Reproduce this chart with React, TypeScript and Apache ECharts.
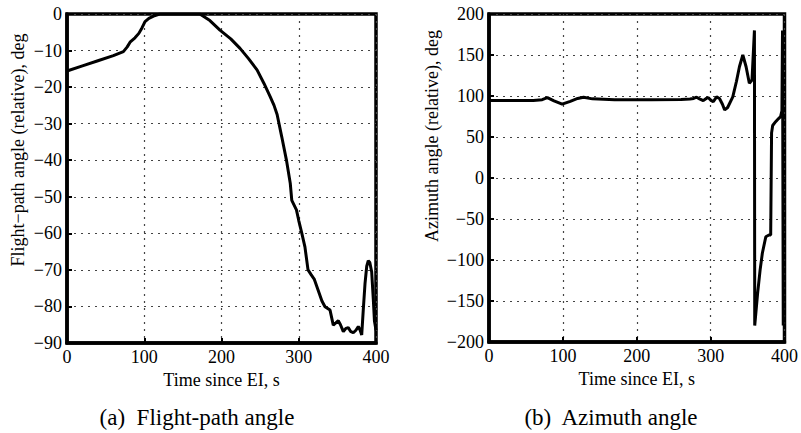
import React, { useEffect, useRef } from "react";
import * as echarts from "echarts";

// Flight-path angle (relative), deg vs time since EI, s
const fpaTime = [0, 20, 40, 60, 73, 78, 82, 88, 93, 97, 101, 106, 112, 120, 172, 185, 198, 212, 224, 235, 246, 255, 263, 268, 272, 278, 284, 289, 291, 297, 300, 304, 308, 312, 316, 320, 325, 330, 334, 340.5, 344.7, 348, 351.2, 354, 357.7, 361, 364.1, 367, 370.6, 374, 377.1, 379.5, 381.5, 383.5, 385.8, 388, 390, 392, 394.4, 396.5, 398, 400];
const fpaValue = [-15.6, -14.2, -12.8, -11.4, -10.3, -9.0, -7.6, -6.5, -5.3, -3.8, -2.1, -1.2, -0.6, 0, 0, -1.8, -4.4, -6.8, -9.4, -12.2, -15.3, -19.0, -22.6, -25.0, -27.5, -33.6, -39.9, -46.3, -51.0, -53.6, -56.5, -60.0, -63.7, -70.0, -71.3, -72.5, -75.5, -78.5, -80.1, -81.0, -85.1, -84.5, -83.9, -85.0, -86.9, -86.0, -85.8, -86.8, -87.2, -86.5, -85.5, -86.5, -87.8, -81.0, -73.7, -69.0, -67.5, -68.0, -70.5, -78.0, -84.0, -86.5];

// Azimuth angle (relative), deg vs time since EI, s
const azTime = [0, 30, 60, 72, 79, 88, 99, 110, 120, 128, 140, 170, 220, 260, 272, 277, 281, 285, 290, 294, 297, 300, 303.6, 308, 312, 316, 319, 323, 330, 335, 339, 343.6, 348, 352.4, 356, 359.3, 359.7, 363.6, 367, 370, 374.7, 379, 381.3, 382.5, 384, 388, 392, 394.7, 396.5, 397.3, 398.3];
const azValue = [94.5, 94.5, 94.5, 95.5, 98, 94, 90, 93.5, 97, 98.4, 96.5, 95.5, 95.5, 95.8, 96.3, 97, 98.5, 96.5, 94.3, 97, 98, 95, 93, 99, 97, 90, 83, 86, 99, 118, 135.7, 150, 135.7, 115.5, 119.5, 180, -180, -140.6, -112, -91.8, -71.6, -69.5, -69.5, 55, 64, 68.7, 72.5, 74.8, 82, 180, -180];

const xTicks = [0, 100, 200, 300, 400];
const fpaTicks = [0, -10, -20, -30, -40, -50, -60, -70, -80, -90];
const azTicks = [200, 150, 100, 50, 0, -50, -100, -150, -200];

const xName = "Time since EI, s";
const fpaName = "Flight\u2212path angle (relative), deg";
const azName = "Azimuth angle (relative), deg";
const captionA = "(a)  Flight-path angle";
const captionB = "(b)  Azimuth angle";

const FONT = "'Liberation Serif', 'Times New Roman', Times, serif";

const fmt = (v: number) => (v < 0 ? "\u2212" + Math.abs(v) : String(v));

function axisCommon() {
  return {
    axisLine: { show: true, onZero: false, lineStyle: { color: "#000", width: 3.5 } },
    axisTick: { show: true, inside: true, length: 5, lineStyle: { color: "#000", width: 2 } },
    splitLine: { show: true, lineStyle: { color: "#444", width: 1.2, type: [2, 5] } },
    axisLabel: { color: "#000", fontFamily: FONT, fontSize: 18, formatter: fmt, margin: 5, showMinLabel: true, showMaxLabel: true },
  };
}

export default function App() {
  const ref = useRef<HTMLDivElement>(null);
  useEffect(() => {
    if (!ref.current) return;
    const chart = echarts.init(ref.current, undefined, { renderer: "svg" });
    const fpaData = fpaTime.map((t, i) => [t, fpaValue[i]]);
    const azData = azTime.map((t, i) => [t, azValue[i]]);
    chart.setOption({
      animation: false,
      backgroundColor: "#fff",
      grid: [
        { left: 67, right: 425, top: 14, bottom: 90, show: true, borderColor: "#000", borderWidth: 3.5 },
        { left: 489, right: 12, top: 14, bottom: 91, show: true, borderColor: "#000", borderWidth: 3.5 },
      ],
      xAxis: [0, 1].map((g) => ({
        type: "value",
        gridIndex: g,
        min: xTicks[0],
        max: xTicks[xTicks.length - 1],
        interval: 100,
        name: xName,
        nameLocation: "middle",
        nameGap: 28,
        nameTextStyle: { color: "#000", fontFamily: FONT, fontSize: 18 },
        ...axisCommon(),
      })),
      yAxis: [
        {
          type: "value",
          gridIndex: 0,
          min: fpaTicks[fpaTicks.length - 1],
          max: fpaTicks[0],
          interval: 10,
          ...axisCommon(),
        },
        {
          type: "value",
          gridIndex: 1,
          min: azTicks[azTicks.length - 1],
          max: azTicks[0],
          interval: 50,
          ...axisCommon(),
        },
      ],
      series: [
        {
          type: "line",
          xAxisIndex: 0,
          yAxisIndex: 0,
          data: fpaData,
          showSymbol: false,
          smooth: false,
          lineStyle: { color: "#000", width: 3 },
        },
        {
          type: "line",
          xAxisIndex: 1,
          yAxisIndex: 1,
          data: azData,
          showSymbol: false,
          smooth: false,
          lineStyle: { color: "#000", width: 3 },
        },
      ],
      graphic: [
        {
          type: "text",
          x: 18,
          y: 150,
          rotation: Math.PI / 2,
          style: { text: fpaName, fill: "#000", fontFamily: FONT, fontSize: 18, align: "center", verticalAlign: "middle", textAlign: "center", textVerticalAlign: "middle" },
        },
        {
          type: "text",
          x: 432,
          y: 136,
          rotation: Math.PI / 2,
          style: { text: azName, fill: "#000", fontFamily: FONT, fontSize: 18, align: "center", verticalAlign: "middle", textAlign: "center", textVerticalAlign: "middle" },
        },
        {
          type: "text",
          x: 197,
          y: 417,
          style: { text: captionA, fill: "#000", fontFamily: FONT, fontSize: 23, align: "center", verticalAlign: "middle", textAlign: "center", textVerticalAlign: "middle" },
        },
        {
          type: "text",
          x: 611,
          y: 417,
          style: { text: captionB, fill: "#000", fontFamily: FONT, fontSize: 23, align: "center", verticalAlign: "middle", textAlign: "center", textVerticalAlign: "middle" },
        },
      ],
    });
    return () => chart.dispose();
  }, []);
  return <div ref={ref} style={{ width: 801, height: 433, position: "absolute", left: 0, top: 0 }} />;
}
